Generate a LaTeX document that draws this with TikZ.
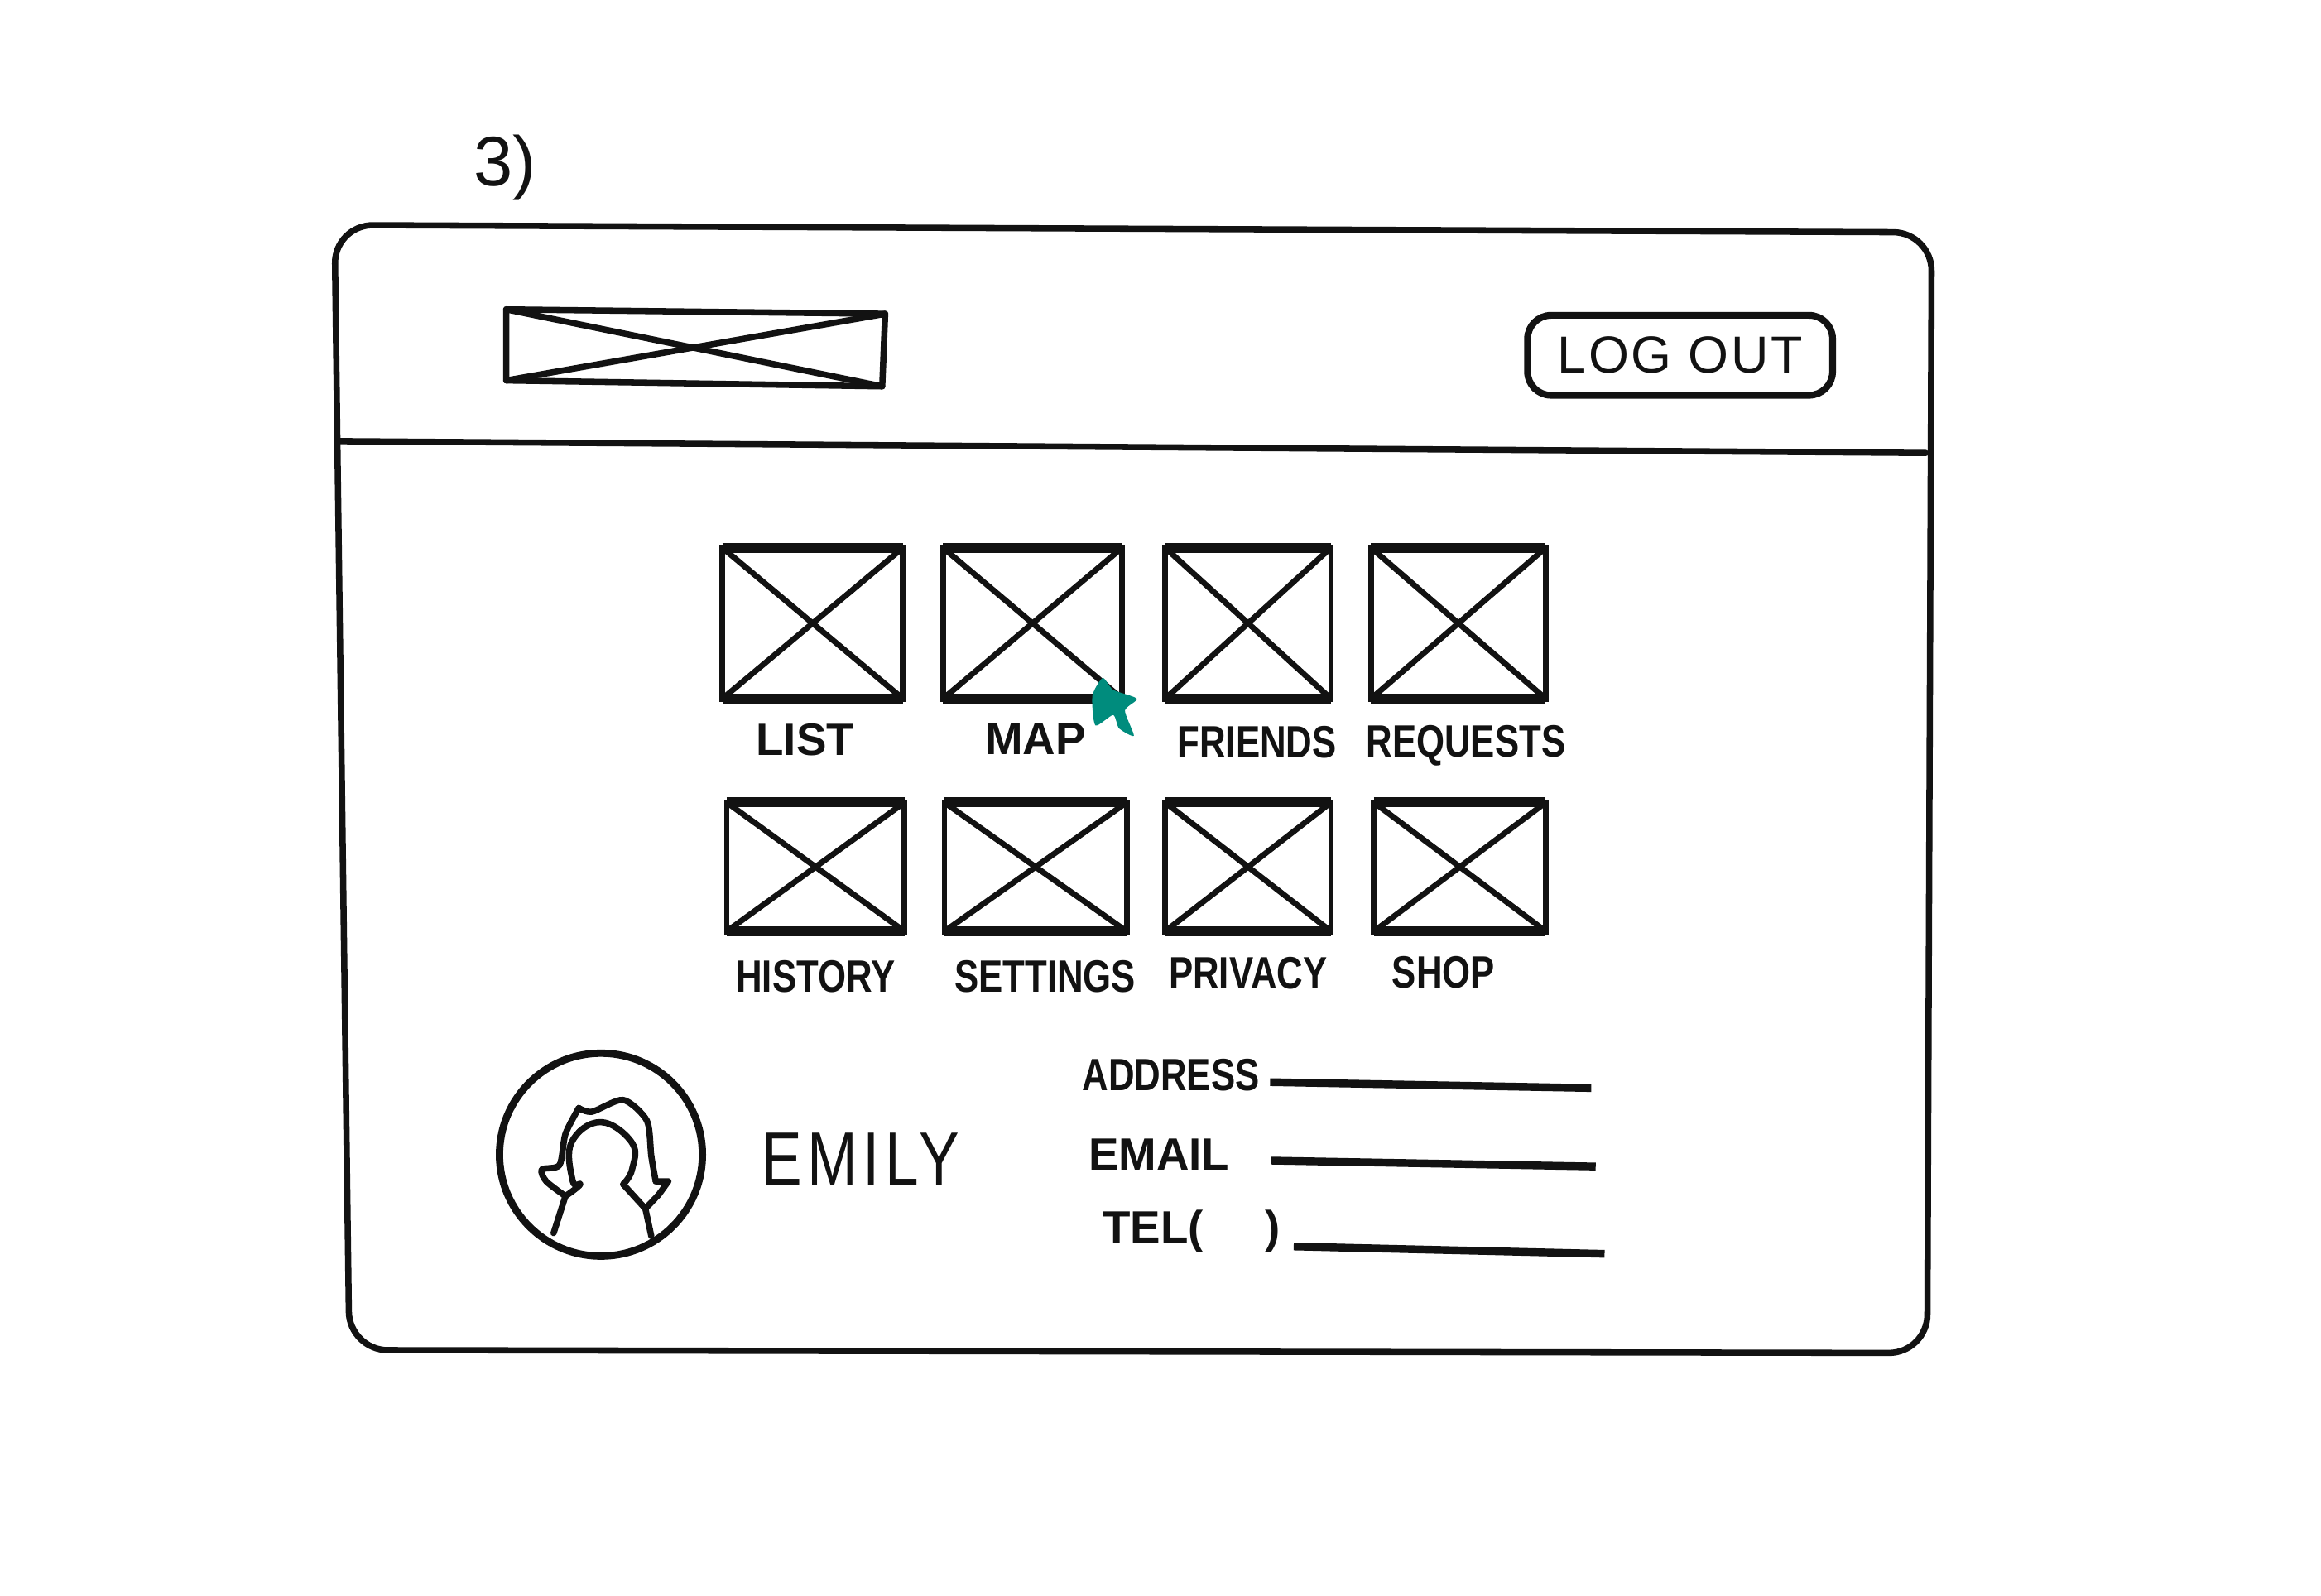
\documentclass[tikz,border=0pt]{standalone}
\usepackage{fontspec}
\usepackage{xcolor}
\usepackage{tikz}
\usetikzlibrary{positioning}
\setmainfont{Liberation Sans}
\newfontfamily\narrowfont[FakeStretch=0.8]{Liberation Sans}
\newfontfamily\namefont[FakeStretch=0.8,LetterSpace=7]{Liberation Sans}
\newfontfamily\buttonfont[LetterSpace=4]{Liberation Sans}
\definecolor{ink}{RGB}{18,18,18}
\definecolor{markteal}{RGB}{0,140,125}
\tikzset{
  sketch/.style={draw=ink, line width=1.2pt, line cap=round, line join=round},
  tilebox/.style={rectangle, draw=ink, line width=1.1pt, inner sep=0pt, outer sep=0pt,
                  path picture={
                    \draw[ink, line width=1.1pt] (path picture bounding box.north west) -- (path picture bounding box.south east);
                    \draw[ink, line width=1.1pt] (path picture bounding box.south west) -- (path picture bounding box.north east);
                  }},
  rowone/.style={tilebox, minimum height=10.2mm},
  rowtwo/.style={tilebox, minimum height=8.7mm},
  tileedge/.style={ink, line width=1.9pt},
  lbl/.style={font=\narrowfont\fontsize{8.7}{10}\selectfont\bfseries, text=ink, inner sep=0pt},
  lblwide/.style={font=\fontsize{8.7}{10}\selectfont\bfseries, text=ink, inner sep=0pt},
  fieldline/.style={ink, line width=1.5pt},
}
\begin{document}
\begin{tikzpicture}[x=0.01cm,y=-0.01cm]
  \useasboundingbox (0,0) rectangle (1568,1078);
  \fill[white] (0,0) rectangle (1568,1078);
  \node[text=ink, font=\fontsize{13.5}{16}\selectfont, inner sep=0pt] (step) at (341,113) {3)};

  % window
  \draw[sketch, rounded corners=2.6mm] (226,152) -- (1305,157) -- (1302,914) -- (236,912) -- cycle;
  \coordinate (barleft) at (230,298);
  \coordinate (barright) at (1301,306);
  \draw[sketch] (barleft) -- (barright);

  % header
  \coordinate (logoa) at (342,209);
  \coordinate (logob) at (598,212);
  \coordinate (logoc) at (596,261);
  \coordinate (logod) at (342,257);
  \draw[sketch] (logoa) -- (logob) -- (logoc) -- (logod) -- cycle;
  \draw[sketch] (logoa) -- (logoc);
  \draw[sketch] (logod) -- (logob);
  \node[draw=ink, line width=1.3pt, rounded corners=1.6mm, minimum width=20.6mm, minimum height=5.4mm,
        inner sep=0pt, text=ink, font=\buttonfont\fontsize{10}{12}\selectfont] (logout) at (1135,240) {LOG OUT};

  % tiles
  \node[rowone, minimum width=12.2mm] (list) at (549,421) {};
  \node[rowone, minimum width=12.1mm, right=2.7mm of list] (map) {};
  \node[rowone, minimum width=11.2mm, right=2.9mm of map] (friends) {};
  \node[rowone, minimum width=11.8mm, right=2.7mm of friends] (requests) {};
  \node[rowtwo, minimum width=12mm, below=7mm of list, xshift=0.2mm] (history) {};
  \node[rowtwo, minimum width=12.3mm, right=2.7mm of history] (settings) {};
  \node[rowtwo, minimum width=11.2mm, right=2.6mm of settings] (privacy) {};
  \node[rowtwo, minimum width=11.6mm, right=2.9mm of privacy] (shop) {};
  \foreach \tile in {list,map,friends,requests,history,settings,privacy,shop} {
    \draw[tileedge] (\tile.north west) -- (\tile.north east);
    \draw[tileedge] (\tile.south west) -- (\tile.south east);
  }
  \node[lblwide, below=1.6mm of list, xshift=-0.5mm] (listlbl) {LIST};
  \node[lblwide, below=1.6mm of map, xshift=0.2mm] (maplbl) {MAP};
  \node[lbl, below=1.8mm of friends, xshift=0.6mm] (friendslbl) {FRIENDS};
  \node[lbl, below=1.7mm of requests, xshift=0.5mm] (requestslbl) {REQUESTS};
  \node[lbl, below=1.9mm of history] (historylbl) {HISTORY};
  \node[lbl, below=1.9mm of settings, xshift=0.65mm] (settingslbl) {SETTINGS};
  \node[lbl, below=1.7mm of privacy] (privacylbl) {PRIVACY};
  \node[lbl, below=1.6mm of shop, xshift=-1.1mm] (shoplbl) {SHOP};
  \fill[markteal] plot[smooth cycle, tension=0.4] coordinates {(745,458) (752,466) (768,472) (760,480) (766,497) (756,492) (752,483) (740,490) (738,470)};

  % profile
  \node[circle, draw=ink, line width=1.4pt, minimum size=13.7mm, inner sep=0pt] (avatar) at (406,780) {};
  \draw[sketch] plot[smooth, tension=0.45] coordinates {(382,808) (369,798) (366,790) (378,787) (382,766) (391,748.5)};
  \draw[sketch] plot[smooth, tension=0.45] coordinates {(391,748.5) (400,751) (421,743) (437,757) (440,781) (443,798)};
  \draw[sketch] (443,798) -- (451.5,798) -- (445,807) -- (436,816.5) -- (421,800);
  \draw[sketch] plot[smooth, tension=0.7] coordinates {(382,808) (392,800) (387,798) (386,772) (405.6,758) (427,772) (427,790) (421,800)};
  \draw[sketch] (382,808) -- (374,833);
  \draw[sketch] (436,816.5) -- (440,835);
  \node[right=3.7mm of avatar, yshift=-0.3mm, inner sep=0pt, text=ink, font=\namefont\fontsize{14.5}{17}\selectfont] (name) {EMILY};

  % form
  \node[lbl] (address) at (791,726) {ADDRESS};
  \node[lblwide] (email) at (783,780) {EMAIL};
  \node[lblwide] (tel) at (805,832) {TEL(\hspace{4.2mm})};
  \coordinate (addressa) at (858,731);
  \coordinate (addressb) at (1075,735);
  \coordinate (emaila) at (859,784);
  \coordinate (emailb) at (1078,788);
  \coordinate (tela) at (874,842);
  \coordinate (telb) at (1084,847);
  \draw[fieldline] (addressa) -- (addressb);
  \draw[fieldline] (emaila) -- (emailb);
  \draw[fieldline] (tela) -- (telb);
\end{tikzpicture}
\end{document}
